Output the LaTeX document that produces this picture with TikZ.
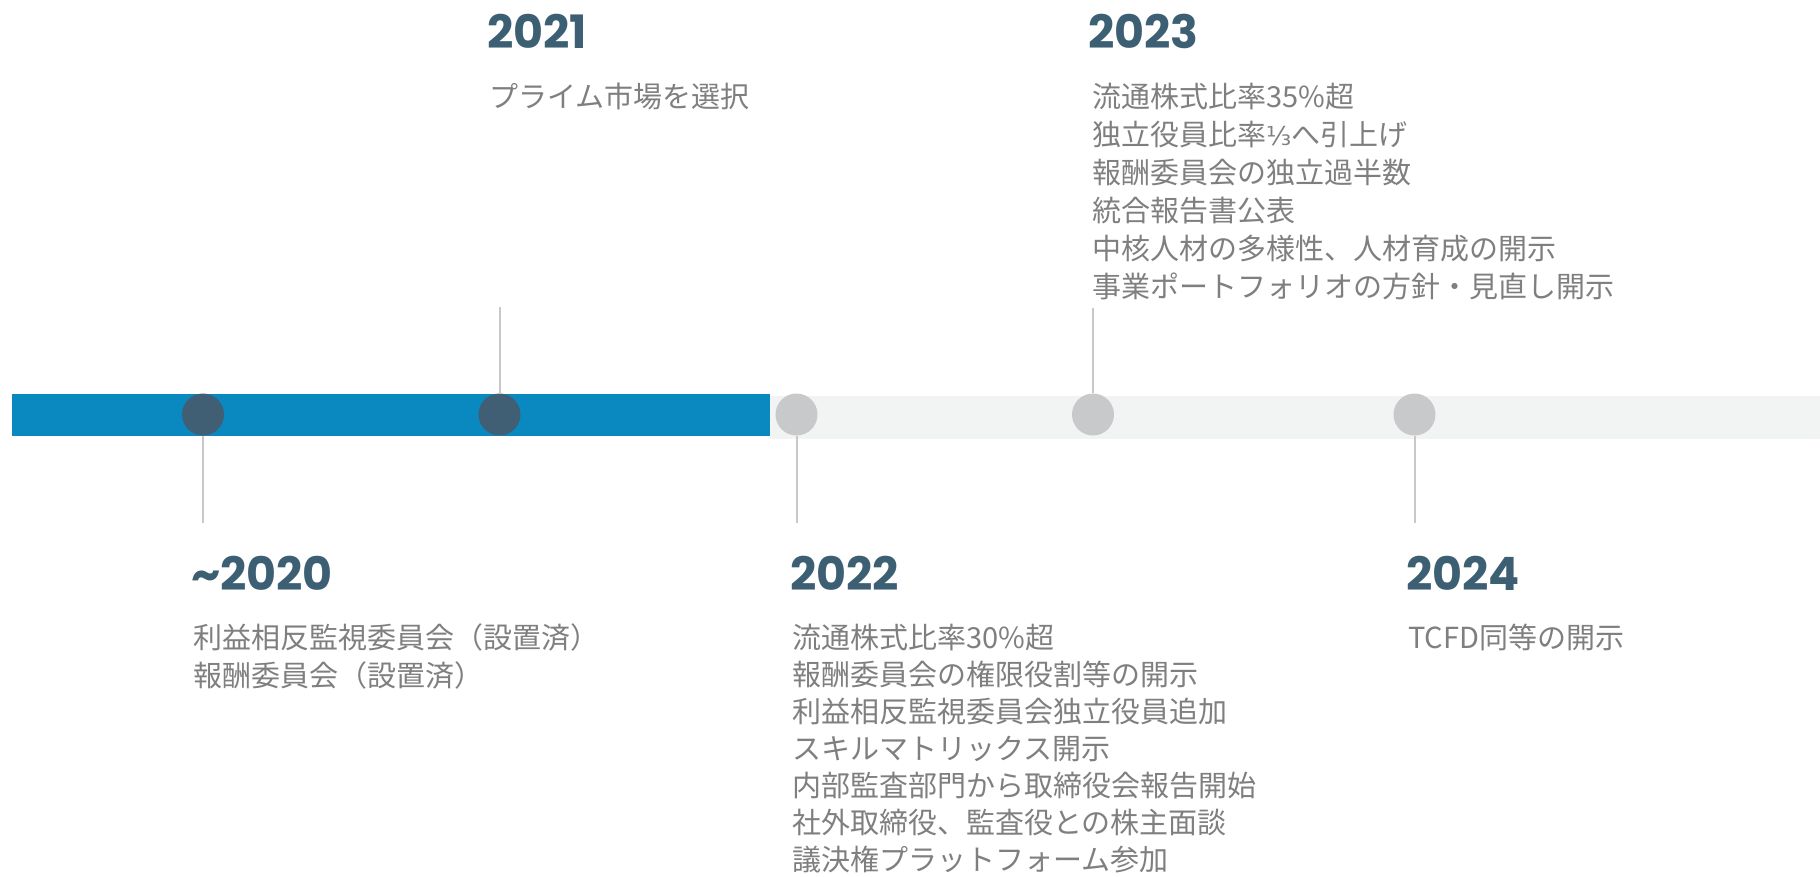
\documentclass[tikz,border=0pt]{standalone}
\usepackage{fontspec}
\setmainfont{Noto Sans CJK JP}
\newfontfamily\yearfont{Poppins}
\newfontfamily\dvfont{DejaVu Sans}
\definecolor{barblue}{HTML}{0A88C0}
\definecolor{bargray}{HTML}{F2F4F4}
\definecolor{dotdark}{HTML}{405F74}
\definecolor{dotgray}{HTML}{C8C9CB}
\definecolor{stem}{HTML}{C8C8C8}
\definecolor{yearcol}{HTML}{3D5F73}
\definecolor{bodycol}{HTML}{7F7F7F}
\tikzset{
  dotd/.style={circle,fill=dotdark,draw=none,minimum size=42pt,inner sep=0pt},
  dotg/.style={circle,fill=dotgray,draw=none,minimum size=42pt,inner sep=0pt},
  conn/.style={draw=stem,line width=2pt},
  yearlbl/.style={anchor=base west,inner sep=0pt,text=yearcol,font=\yearfont\bfseries\fontsize{46}{48}\selectfont},
  bodylbl/.style={anchor=base west,inner sep=0pt,text=bodycol,align=left,font=\fontsize{29}{38}\selectfont}
}
\begin{document}
\begin{tikzpicture}[x=1pt,y=-1pt]
\useasboundingbox (0,0) rectangle (1820,876);
\fill[bargray] (770,396) rectangle (1820,439);
\fill[barblue] (11.5,393.5) rectangle (770,436);
% dots
\node[dotd] (c1) at (203,414.5) {};
\node[dotd] (c2) at (499.5,414.5) {};
\node[dotg] (c3) at (796.5,414.5) {};
\node[dotg] (c4) at (1093,414.5) {};
\node[dotg] (c5) at (1414.5,414.5) {};
% stem ends
\coordinate (e1) at (203,523);
\coordinate (e2) at (499.5,307);
\coordinate (e3) at (796.5,523);
\coordinate (e4) at (1093,308);
\coordinate (e5) at (1414.5,523);
\draw[conn] (c1.south) -- (e1);
\draw[conn] (c2.north) -- (e2);
\draw[conn] (c3.south) -- (e3);
\draw[conn] (c4.north) -- (e4);
\draw[conn] (c5.south) -- (e5);
% labels (base west = baseline of last line)
\node[yearlbl] (y1) at (191,590) {\char"7E\relax 2020};
\node[bodylbl] (t1) at (193,686) {利益相反監視委員会（設置済）\\報酬委員会（設置済）};
\node[yearlbl] (y2) at (487,48) {2021};
\node[bodylbl] (t2) at (489,107) {プライム市場を選択};
\node[yearlbl] (y3) at (790,590) {2022};
\node[bodylbl,font=\fontsize{29}{37}\selectfont] (t3) at (792,870) {流通株式比率30\%超\\報酬委員会の権限役割等の開示\\利益相反監視委員会独立役員追加\\スキルマトリックス開示\\内部監査部門から取締役会報告開始\\社外取締役、監査役との株主面談\\議決権プラットフォーム参加};
\node[yearlbl] (y4) at (1088,48) {2023};
\node[bodylbl] (t4) at (1092,297) {流通株式比率35\%超\\独立役員比率{\dvfont\fontsize{26}{38}\selectfont ⅓}へ引上げ\\報酬委員会の独立過半数\\統合報告書公表\\中核人材の多様性、人材育成の開示\\事業ポートフォリオの方針・見直し開示};
\node[yearlbl] (y5) at (1406,590) {2024};
\node[bodylbl] (t5) at (1408,648) {TCFD同等の開示};
\end{tikzpicture}
\end{document}
